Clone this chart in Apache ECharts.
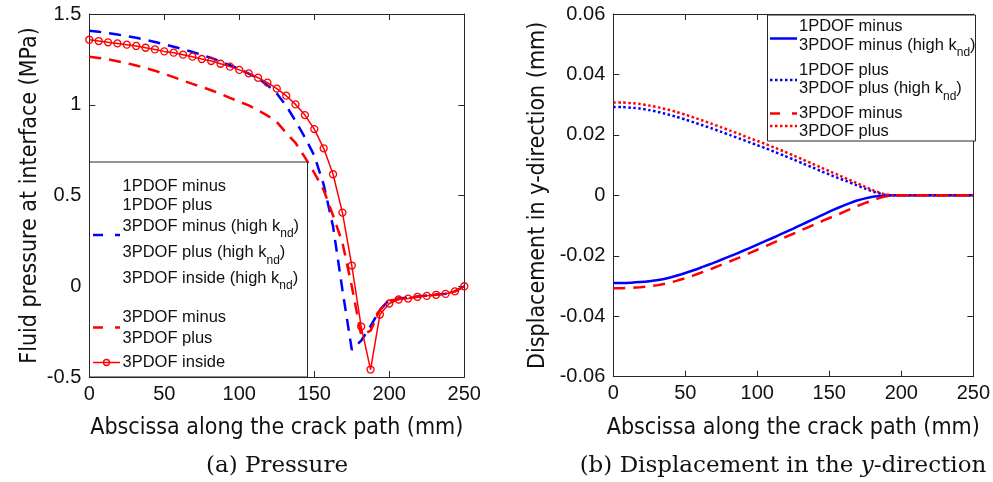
<!DOCTYPE html>
<html><head><meta charset="utf-8">
<script src="https://cdn.jsdelivr.net/npm/echarts@6/dist/echarts.min.js"></script>
<style>html,body{margin:0;padding:0;background:#fff}#c{width:993px;height:482px}</style>
</head><body><div id="c"></div>
<script>
// ---------- data ----------
const xPressure = [0,6.25,12.5,18.75,25,31.25,37.5,43.75,50,56.25,62.5,68.75,75,81.25,87.5,93.75,100,106.25,112.5,118.75,125,131.25,137.5,143.75,150,156.25,162.5,168.75,175,181.25,187.5,193.75,200,206.25,212.5,218.75,225,231.25,237.5,243.75,250];
const pInside3 = [1.358,1.351,1.344,1.338,1.331,1.324,1.314,1.305,1.294,1.287,1.276,1.265,1.252,1.241,1.226,1.210,1.192,1.173,1.149,1.122,1.089,1.050,1.002,0.943,0.866,0.760,0.617,0.406,0.114,-0.222,-0.459,-0.156,-0.095,-0.073,-0.068,-0.058,-0.053,-0.047,-0.042,-0.028,0.0];
const pMinusHigh = [1.408,1.402,1.395,1.387,1.378,1.369,1.358,1.346,1.333,1.320,1.306,1.291,1.275,1.258,1.238,1.218,1.197,1.172,1.145,1.108,1.062,0.995,0.910,0.820,0.720,0.560,0.330,-0.020,-0.350,-0.300,-0.220,-0.130,-0.075,-0.068,-0.063,-0.056,-0.051,-0.046,-0.041,-0.028,0.0];
const pMinus3 = [1.265,1.258,1.250,1.240,1.229,1.216,1.202,1.187,1.170,1.152,1.133,1.115,1.098,1.080,1.060,1.038,1.017,0.997,0.970,0.940,0.905,0.845,0.790,0.710,0.625,0.530,0.390,0.240,0.000,-0.270,-0.245,-0.130,-0.080,-0.070,-0.066,-0.058,-0.053,-0.047,-0.042,-0.028,0.0];

const xDisp = [0,6.25,12.5,18.75,25,31.25,37.5,43.75,50,56.25,62.5,68.75,75,81.25,87.5,93.75,100,106.25,112.5,118.75,125,131.25,137.5,143.75,150,156.25,162.5,168.75,175,181.25,187.5,193.75,200,206.25,212.5,218.75,225,231.25,237.5,243.75,250];
const dMinusHigh = [-0.0290,-0.0290,-0.0289,-0.0287,-0.0284,-0.0280,-0.0274,-0.0266,-0.0257,-0.0247,-0.0236,-0.0225,-0.0213,-0.0201,-0.0189,-0.0176,-0.0163,-0.0150,-0.0137,-0.0123,-0.0110,-0.0096,-0.0082,-0.0068,-0.0054,-0.0041,-0.0029,-0.0018,-0.0010,-0.0004,-0.0001,0,0,0,0,0,0,0,0,0,0];
const dPlusHigh = [0.0292,0.0292,0.0290,0.0287,0.0282,0.0276,0.0268,0.0260,0.0251,0.0241,0.0231,0.0221,0.0210,0.0199,0.0188,0.0177,0.0166,0.0155,0.0143,0.0131,0.0119,0.0106,0.0094,0.0081,0.0069,0.0057,0.0046,0.0034,0.0022,0.0011,0.0003,0,0,0,0,0,0,0,0,0,0];
const dMinus3 = [-0.0307,-0.0307,-0.0306,-0.0304,-0.0301,-0.0297,-0.0291,-0.0283,-0.0274,-0.0264,-0.0253,-0.0242,-0.0230,-0.0218,-0.0206,-0.0193,-0.0180,-0.0167,-0.0154,-0.0140,-0.0127,-0.0114,-0.0101,-0.0088,-0.0075,-0.0063,-0.0050,-0.0037,-0.0025,-0.0015,-0.0005,0,0,0,0,0,0,0,0,0,0];
const dPlus3 = [0.0307,0.0307,0.0305,0.0302,0.0297,0.0291,0.0284,0.0276,0.0267,0.0257,0.0247,0.0236,0.0225,0.0214,0.0203,0.0191,0.0180,0.0169,0.0157,0.0145,0.0132,0.0119,0.0106,0.0093,0.0080,0.0067,0.0054,0.0041,0.0028,0.0015,0.0005,0,0,0,0,0,0,0,0,0,0];

const xTitle = 'Abscissa along the crack path (mm)';
const yTitleA = 'Fluid pressure at interface (MPa)';
const yTitleB = 'Displacement in y-direction (mm)';
const captionA = '(a) Pressure';
const captionB = '(b) Displacement in the {i|y}-direction';

// ---------- helpers ----------
function hasFont(name){
  const c = document.createElement('canvas').getContext('2d');
  c.font = '40px monospace'; const a = c.measureText('Abscissa along the crack').width;
  c.font = '40px "' + name + '", monospace'; const b = c.measureText('Abscissa along the crack').width;
  return Math.abs(a - b) > 0.5;
}
const FONT = 'Liberation Sans';
let titleFont = {family: FONT, size: 23};
if (hasFont('Liberation Sans Narrow')) titleFont = {family: 'Liberation Sans Narrow', size: 28};
else if (hasFont('DejaVu Sans Condensed')) titleFont = {family: 'DejaVu Sans Condensed', size: 23};

const AX = '#262626', TXT = '#111';
const BLUE = '#0000ff', RED = '#ff0000';
const DASH = [12, 8], DOT = [2.5, 2.5];
const pair = (xs, ys) => xs.map((x, i) => [x, ys[i]]);

function xAx(grid, bottom, name){
  return {
    type: 'value', gridIndex: grid, position: bottom ? 'bottom' : 'top',
    min: 0, max: 250, interval: 50,
    axisLine: {show: true, onZero: false, lineStyle: {color: AX, width: 1}},
    axisTick: {show: true, inside: true, length: 6, lineStyle: {color: AX}},
    axisLabel: {show: bottom, color: TXT, fontSize: 20, fontFamily: FONT, margin: 7},
    splitLine: {show: false},
    name: bottom ? name : '', nameLocation: 'middle', nameGap: 40,
    nameTextStyle: {color: TXT, fontSize: titleFont.size, fontFamily: titleFont.family}
  };
}
function yAx(grid, left, min, max, interval, name, gap){
  return {
    type: 'value', gridIndex: grid, position: left ? 'left' : 'right',
    min: min, max: max, interval: interval,
    axisLine: {show: true, onZero: false, lineStyle: {color: AX, width: 1}},
    axisTick: {show: true, inside: true, length: 6, lineStyle: {color: AX}},
    axisLabel: {show: left, color: TXT, fontSize: 20, fontFamily: FONT, margin: 8},
    splitLine: {show: false},
    name: left ? name : '', nameLocation: 'middle', nameGap: gap,
    nameTextStyle: {color: TXT, fontSize: titleFont.size, fontFamily: titleFont.family}
  };
}

// legend graphics
const LF = 16.5;
function ltext(x, y, txt){
  return {type: 'text', z: 101, x: x, y: y, silent: true,
    style: {text: txt, fill: TXT, fontSize: LF, fontFamily: FONT, align: 'left', verticalAlign: 'middle', lineHeight: 28,
      rich: {s: {fontSize: 12, fontFamily: FONT, fill: TXT, lineHeight: 12, verticalAlign: 'bottom'}}}};
}
function lline(x1, x2, y, color, width, dash){
  return {type: 'line', z: 101, silent: true, shape: {x1: x1, y1: y, x2: x2, y2: y},
    style: {stroke: color, lineWidth: width, lineDash: dash || null}};
}
const graphics = [
  {type: 'rect', z: 100, silent: true, shape: {x: 89.5, y: 162, width: 218, height: 215}, style: {fill: '#fff', stroke: AX, lineWidth: 1}},
  ltext(122.5, 186, '1PDOF minus'),
  ltext(122.5, 205, '1PDOF plus'),
  ltext(122.5, 226, '3PDOF minus (high k{s|nd})'),
  ltext(122.5, 252.5, '3PDOF plus (high k{s|nd})'),
  ltext(122.5, 278, '3PDOF inside (high k{s|nd})'),
  ltext(122.5, 317.5, '3PDOF minus'),
  ltext(122.5, 338, '3PDOF plus'),
  ltext(122.5, 362.5, '3PDOF inside'),
  lline(93, 120, 235, BLUE, 2.5, [10, 12]),
  lline(93, 120, 327.5, RED, 2.5, [10, 12]),
  lline(93, 120, 362.5, RED, 1.5),
  {type: 'circle', z: 102, silent: true, shape: {cx: 106.5, cy: 362.5, r: 3}, style: {fill: 'rgba(0,0,0,0)', stroke: RED, lineWidth: 1.3}},
  {type: 'rect', z: 100, silent: true, shape: {x: 767.5, y: 15, width: 208, height: 126}, style: {fill: '#fff', stroke: AX, lineWidth: 1}},
  ltext(799, 26, '1PDOF minus'),
  ltext(799, 45, '3PDOF minus (high k{s|nd})'),
  ltext(799, 70, '1PDOF plus'),
  ltext(799, 88.5, '3PDOF plus (high k{s|nd})'),
  ltext(799, 113.5, '3PDOF minus'),
  ltext(799, 131, '3PDOF plus'),
  lline(770, 797, 38.5, BLUE, 2.5),
  lline(770, 797, 80, BLUE, 2.5, DOT),
  lline(770, 797, 113.5, RED, 2.5, [10, 12]),
  lline(770, 797, 126, RED, 2.5, DOT),
  {type: 'text', z: 100, x: 277, y: 466, silent: true,
    style: {text: captionA, fill: TXT, fontSize: 23, fontFamily: 'DejaVu Serif', align: 'center', verticalAlign: 'middle'}},
  {type: 'text', z: 100, x: 783, y: 466, silent: true,
    style: {text: captionB, fill: TXT, fontSize: 23, fontFamily: 'DejaVu Serif', align: 'center', verticalAlign: 'middle',
      rich: {i: {fontSize: 23, fontFamily: 'DejaVu Serif', fontStyle: 'italic', fill: TXT}}}}
];

const chart = echarts.init(document.getElementById('c'), null, {renderer: 'canvas'});
chart.setOption({
  animation: false,
  backgroundColor: '#fff',
  grid: [
    {left: 89.3, top: 14, width: 375, height: 363, containLabel: false},
    {left: 613.3, top: 14, width: 362.2, height: 362.7, containLabel: false}
  ],
  xAxis: [xAx(0, true, xTitle), xAx(0, false), xAx(1, true, xTitle), xAx(1, false)],
  yAxis: [yAx(0, true, -0.5, 1.5, 0.5, yTitleA, 48), yAx(0, false, -0.5, 1.5, 0.5),
          yAx(1, true, -0.06, 0.06, 0.02, yTitleB, 64), yAx(1, false, -0.06, 0.06, 0.02)],
  series: [
    {type: 'line', name: '3PDOF minus (high knd)', xAxisIndex: 0, yAxisIndex: 0, data: pair(xPressure, pMinusHigh),
      showSymbol: false, lineStyle: {color: BLUE, width: 2.5, type: DASH}, itemStyle: {color: BLUE}, z: 2},
    {type: 'line', name: '3PDOF minus', xAxisIndex: 0, yAxisIndex: 0, data: pair(xPressure, pMinus3),
      showSymbol: false, lineStyle: {color: RED, width: 2.5, type: DASH}, itemStyle: {color: RED}, z: 3},
    {type: 'line', name: '3PDOF inside', xAxisIndex: 0, yAxisIndex: 0, data: pair(xPressure, pInside3),
      symbol: 'circle', symbolSize: 7, showAllSymbol: true,
      lineStyle: {color: RED, width: 1.5}, itemStyle: {color: 'rgba(0,0,0,0)', borderColor: RED, borderWidth: 1.3}, z: 4},
    {type: 'line', name: '1PDOF minus / 3PDOF minus (high knd)', xAxisIndex: 2, yAxisIndex: 2, data: pair(xDisp, dMinusHigh),
      showSymbol: false, smooth: 0.2, lineStyle: {color: BLUE, width: 2.5}, itemStyle: {color: BLUE}, z: 2},
    {type: 'line', name: '1PDOF plus / 3PDOF plus (high knd)', xAxisIndex: 2, yAxisIndex: 2, data: pair(xDisp, dPlusHigh),
      showSymbol: false, smooth: 0.2, lineStyle: {color: BLUE, width: 2.5, type: DOT}, itemStyle: {color: BLUE}, z: 3},
    {type: 'line', name: '3PDOF minus', xAxisIndex: 2, yAxisIndex: 2, data: pair(xDisp, dMinus3),
      showSymbol: false, smooth: 0.2, lineStyle: {color: RED, width: 2.5, type: DASH}, itemStyle: {color: RED}, z: 4},
    {type: 'line', name: '3PDOF plus', xAxisIndex: 2, yAxisIndex: 2, data: pair(xDisp, dPlus3),
      showSymbol: false, smooth: 0.2, lineStyle: {color: RED, width: 2.5, type: DOT}, itemStyle: {color: RED}, z: 5}
  ],
  graphic: graphics
});
</script></body></html>
